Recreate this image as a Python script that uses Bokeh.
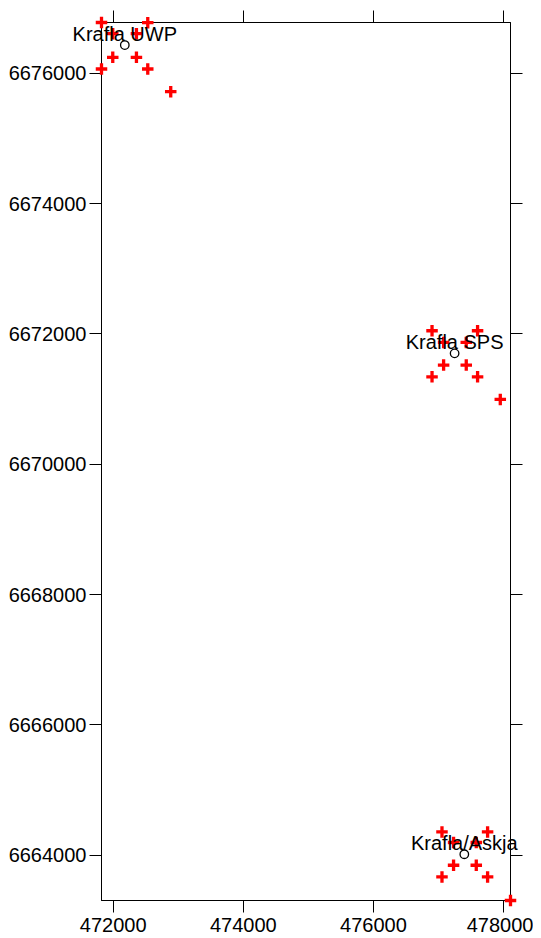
from bokeh.plotting import figure
from bokeh.models import LinearAxis, SingleIntervalTicker, BasicTickFormatter, Range1d, ColumnDataSource
from bokeh.core.properties import value
from bokeh.embed import file_html
from bokeh.resources import INLINE

# Receiver (red plus) positions
rx = [471821, 472532, 471994, 472358, 471994, 472358, 471821, 472532, 472885,
      476901, 477601, 477079, 477427, 477079, 477427, 476901, 477601, 477950,
      477054, 477755, 477232, 477581, 477232, 477581, 477054, 477755, 478107]
ry = [6676780, 6676777, 6676608, 6676608, 6676246, 6676246, 6676066, 6676066, 6675718,
      6672049, 6672049, 6671870, 6671870, 6671522, 6671522, 6671342, 6671342, 6670995,
      6664357, 6664357, 6664195, 6664195, 6663846, 6663846, 6663667, 6663667, 6663305]

# Stations (open circles with labels)
station_names = ["Krafla UWP", "Krafla SPS", "Krafla/Askja"]
sx = [472179, 477248, 477397]
sy = [6676434, 6671702, 6664015]

x_tick_interval = 2000
y_tick_interval = 2000

FONT = "Liberation Sans"

p = figure(width=533, height=938, output_backend="svg", toolbar_location=None,
           x_range=Range1d(min(rx), max(rx)), y_range=Range1d(min(ry), max(ry)),
           x_axis_location=None, y_axis_location=None,
           min_border_left=101, min_border_top=22, min_border_right=23, min_border_bottom=38,
           background_fill_color="white", border_fill_color="white")
p.grid.visible = False
p.outline_line_color = "black"
p.outline_line_width = 1


def make_axis(dim, labels=True):
    ax = LinearAxis()
    interval = x_tick_interval if dim == "x" else y_tick_interval
    ax.ticker = SingleIntervalTicker(interval=interval, num_minor_ticks=0)
    ax.formatter = BasicTickFormatter(use_scientific=False)
    ax.major_tick_out = 12
    ax.major_tick_in = 0
    ax.minor_tick_out = 0
    ax.minor_tick_in = 0
    ax.major_tick_line_color = "black"
    ax.major_tick_line_width = 1
    ax.axis_line_color = "black"
    ax.axis_line_width = 1
    ax.major_label_text_font = FONT
    if labels:
        ax.major_label_text_font_size = "20px"
        ax.major_label_text_color = "black"
    else:
        ax.major_label_text_font_size = "0px"
        ax.major_label_text_color = None
        ax.major_label_standoff = 0
    return ax


bottom = make_axis("x")
bottom.major_label_standoff = 5
left = make_axis("y")
left.major_label_standoff = 3
p.add_layout(bottom, "below")
p.add_layout(left, "left")
p.add_layout(make_axis("x", labels=False), "above")
p.add_layout(make_axis("y", labels=False), "right")

src_r = ColumnDataSource(dict(x=rx, y=ry))
p.scatter("x", "y", source=src_r, marker="cross", size=11.5, line_width=3.3, line_color="red",
          level="overlay")

src_s = ColumnDataSource(dict(x=sx, y=sy, name=station_names))
p.scatter("x", "y", source=src_s, marker="circle", size=8.5, line_width=1.3,
          line_color="black", fill_color=None, level="overlay")
p.text("x", "y", text="name", source=src_s, text_align="center", text_baseline="bottom",
       text_font=value(FONT), text_font_size="20px", text_color="black", level="overlay")

open("out.html", "w").write(file_html(p, INLINE))
